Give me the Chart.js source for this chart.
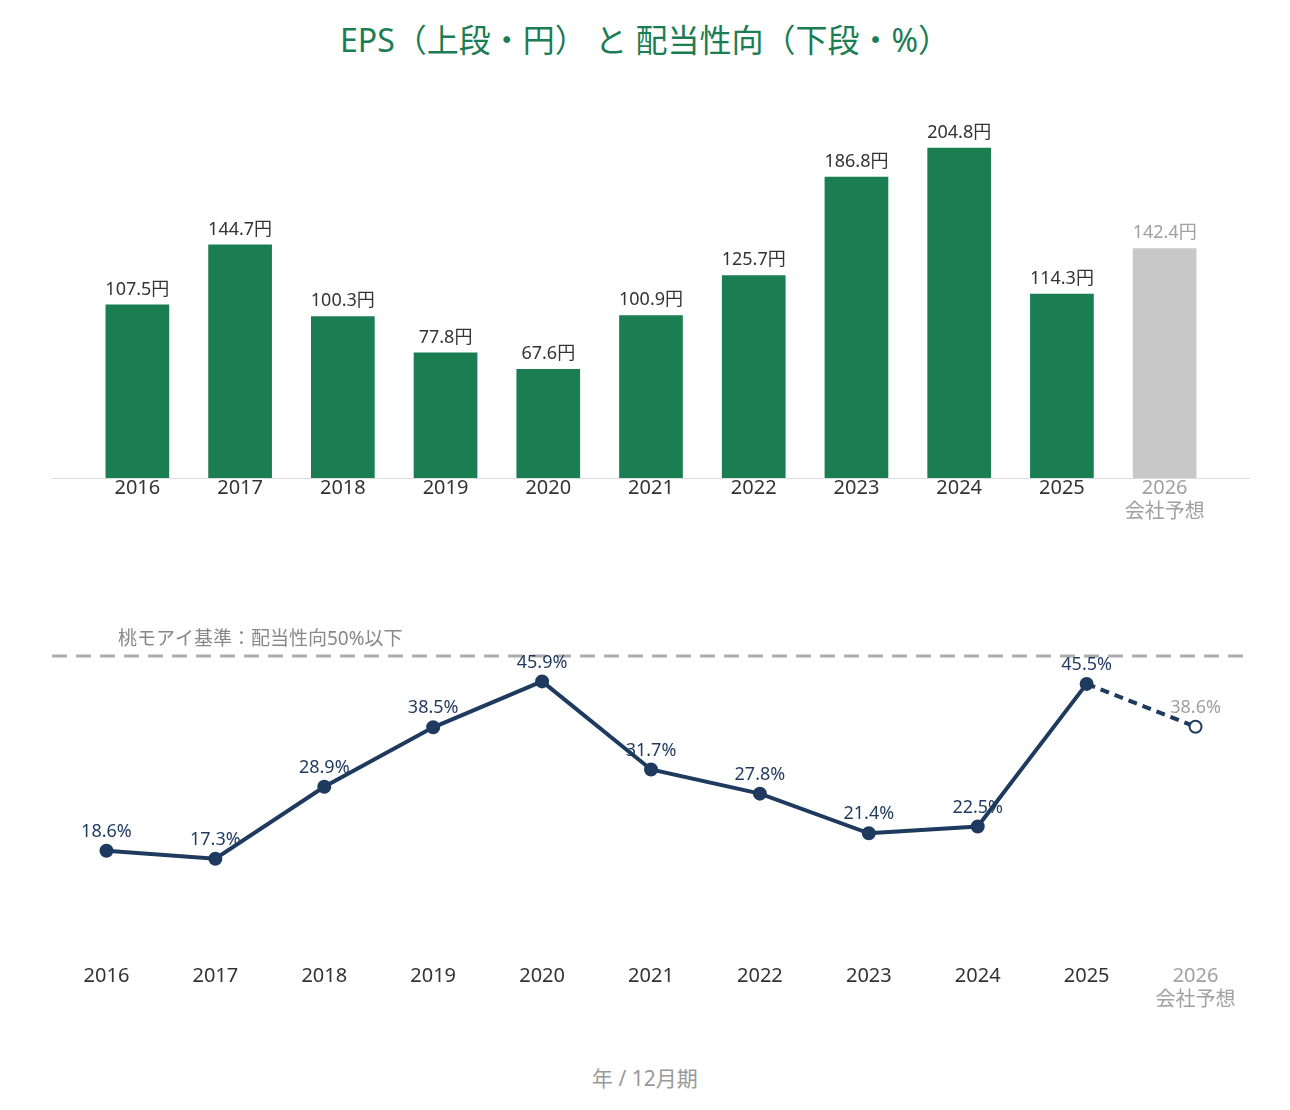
<!DOCTYPE html>
<html>
<head>
<meta charset="utf-8">
<script src="https://cdn.jsdelivr.net/npm/chart.js@4.4.1/dist/chart.umd.min.js"></script>
<style>
  body { margin: 0; background: #fff; font-family: "Noto Sans", "Noto Sans CJK JP", sans-serif; }
  #wrap { position: relative; width: 1290px; height: 1110px; }
  #title { position: absolute; top: 15px; left: 0; width: 1290px; text-align: center; font-size: 32px; color: #1b7d52; }
  #foot { position: absolute; top: 1062px; left: 0; width: 1290px; text-align: center; font-size: 21px; color: #999; }
  #topBox { position: absolute; top: 90px; left: 0; width: 1290px; height: 432px; }
  #botBox { position: absolute; top: 600px; left: 0; width: 1290px; height: 410px; }
</style>
</head>
<body>
<div id="wrap">
  <div id="title">EPS（上段・円） と 配当性向（下段・%）</div>
  <div id="topBox"><canvas id="eps"></canvas></div>
  <div id="botBox"><canvas id="payout"></canvas></div>
  <div id="foot">年 / 12月期</div>
</div>
<script>
var years = ["2016","2017","2018","2019","2020","2021","2022","2023","2024","2025",["2026","会社予想"]];
var epsValues = [107.5,144.7,100.3,77.8,67.6,100.9,125.7,186.8,204.8,114.3,142.4];
var payoutValues = [18.6,17.3,28.9,38.5,45.9,31.7,27.8,21.4,22.5,45.5,38.6];
var payoutLimit = 50;
var limitText = "桃モアイ基準：配当性向50%以下";

var green = "#1b7d52";
var navy = "#1f3a5f";
var forecastGrey = "#a0a0a0";
var fontFamily = '"Noto Sans", "Noto Sans CJK JP", sans-serif';
var last = years.length - 1;

var tickColors = years.map(function(y, i){ return i === last ? forecastGrey : "#333"; });

// value labels above bars / points
var valueLabels = {
  id: "valueLabels",
  afterDatasetsDraw: function(chart, args, opts){
    var ctx = chart.ctx;
    var meta = chart.getDatasetMeta(0);
    var data = chart.data.datasets[0].data;
    ctx.save();
    ctx.font = "18px " + fontFamily;
    ctx.textAlign = "center";
    ctx.textBaseline = "bottom";
    meta.data.forEach(function(el, i){
      ctx.fillStyle = i === last ? forecastGrey : opts.color;
      ctx.fillText(data[i].toFixed(1) + opts.unit, el.x, el.y - opts.gap);
    });
    ctx.restore();
  }
};

var baseline = {
  id: "baseline",
  beforeDatasetsDraw: function(chart){
    var ctx = chart.ctx;
    var y = chart.scales.y.getPixelForValue(0);
    ctx.save();
    ctx.strokeStyle = "#dcdcdc";
    ctx.lineWidth = 1;
    ctx.beginPath();
    ctx.moveTo(52, y + 0.5);
    ctx.lineTo(1250, y + 0.5);
    ctx.stroke();
    ctx.restore();
  }
};

var limitLine = {
  id: "limitLine",
  beforeDatasetsDraw: function(chart){
    var ctx = chart.ctx;
    var a = chart.chartArea;
    var y = chart.scales.y.getPixelForValue(payoutLimit);
    ctx.save();
    ctx.strokeStyle = "#ababab";
    ctx.lineWidth = 3;
    ctx.setLineDash([15, 9]);
    ctx.beginPath();
    ctx.moveTo(a.left, y);
    ctx.lineTo(a.right, y);
    ctx.stroke();
    ctx.setLineDash([]);
    ctx.fillStyle = "#888";
    ctx.font = "19px " + fontFamily;
    ctx.textAlign = "left";
    ctx.textBaseline = "bottom";
    ctx.fillText(limitText, 118, y - 7);
    ctx.restore();
  }
};

var xTicks = { color: tickColors, font: { family: fontFamily, size: 20 }, padding: -2, maxRotation: 0, autoSkip: false };

new Chart("eps", {
  type: "bar",
  data: {
    labels: years,
    datasets: [{
      data: epsValues,
      backgroundColor: epsValues.map(function(v, i){ return i === last ? "#c8c8c8" : green; }),
      categoryPercentage: 0.62,
      barPercentage: 1
    }]
  },
  options: {
    responsive: true,
    maintainAspectRatio: false,
    animation: false,
    layout: { padding: { top: 17, left: 86, right: 74, bottom: 0 } },
    plugins: { legend: { display: false }, tooltip: { enabled: false },
      valueLabels: { color: "#333", unit: "円", gap: 6 } },
    scales: {
      x: {
        grid: { display: false, drawTicks: false, tickLength: 0 },
        border: { display: false },
        ticks: xTicks
      },
      y: { display: false, min: 0, max: 230 }
    }
  },
  plugins: [baseline, valueLabels]
});

new Chart("payout", {
  type: "line",
  data: {
    labels: years,
    datasets: [{
      data: payoutValues,
      borderColor: navy,
      borderWidth: 4,
      pointRadius: 6,
      pointBorderWidth: 2,
      pointBorderColor: navy,
      pointBackgroundColor: payoutValues.map(function(v, i){ return i === last ? "#fff" : navy; }),
      segment: {
        borderDash: function(c){ return c.p1DataIndex === last ? [9, 6] : undefined; }
      },
      tension: 0
    }]
  },
  options: {
    responsive: true,
    maintainAspectRatio: false,
    animation: false,
    layout: { padding: { top: 25, left: 52, right: 40, bottom: 0 } },
    plugins: { legend: { display: false }, tooltip: { enabled: false },
      valueLabels: { color: navy, unit: "%", gap: 10 } },
    scales: {
      x: {
        offset: true,
        grid: { display: false, drawTicks: false, tickLength: 0 },
        border: { display: false },
        ticks: xTicks
      },
      y: { display: false, min: 0, max: 55 }
    }
  },
  plugins: [limitLine, valueLabels]
});
</script>
</body>
</html>
